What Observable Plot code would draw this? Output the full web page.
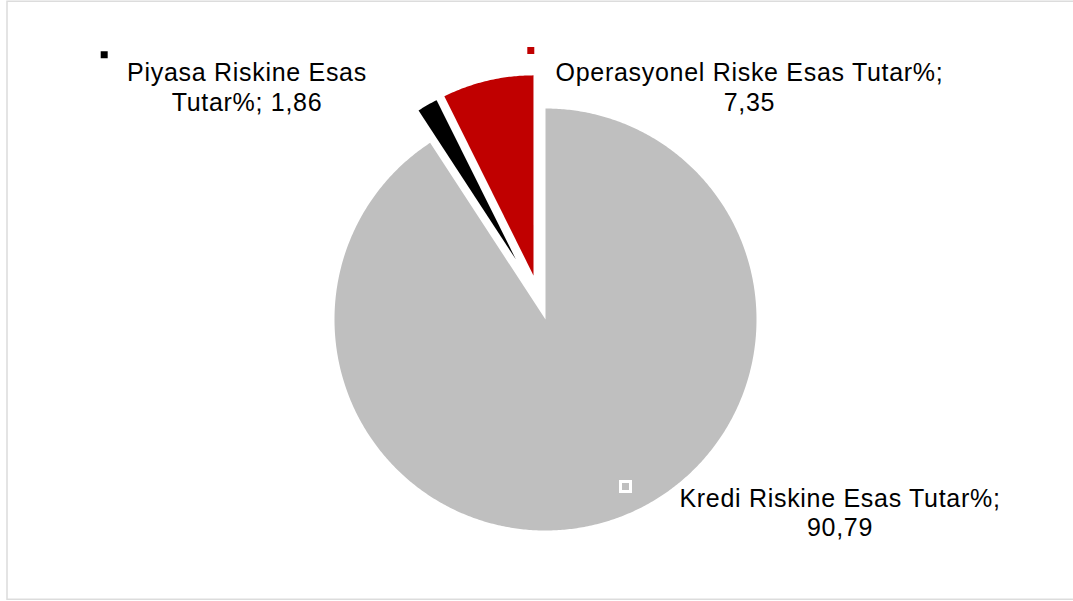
<!DOCTYPE html>
<html>
<head>
<meta charset="utf-8">
<script src="https://cdn.jsdelivr.net/npm/d3@7"></script>
<script src="https://cdn.jsdelivr.net/npm/@observablehq/plot@0.6"></script>
<style>
  html, body { margin: 0; padding: 0; background: #ffffff; }
  #chart svg { display: block; }
</style>
</head>
<body>
<div id="chart"></div>
<script>
// ---- data ----
const categories = ["Kredi Riskine Esas Tutar%", "Piyasa Riskine Esas Tutar%", "Operasyonel Riske Esas Tutar%"];
const values = [90.79, 1.86, 7.35];
const labelLines = [
  ["Kredi Riskine Esas Tutar%;", "90,79"],
  ["Piyasa Riskine Esas", "Tutar%; 1,86"],
  ["Operasyonel Riske Esas Tutar%;", "7,35"]
];
const colors = ["#bfbfbf", "#000000", "#c00000"];

// ---- layout (units of the main pie radius) ----
const radii = [1, 0.844, 0.948];
const explode = [[0, 0], [-0.140, 0.284], [-0.057, 0.209]];
const labelPos = [[1.3957, -0.788], [-1.4147, 1.229], [0.9668, 1.229]];
const keyPos = [[0.3791, -0.7915], [-2.0915, 1.255], [-0.0697, 1.2749]];

// ---- build slices from values ----
const arcs = d3.pie().sort(null).startAngle(0).endAngle(2 * Math.PI)(values);
const pts = [];
arcs.forEach((a, i) => {
  const [ox, oy] = explode[i];
  const r = radii[i];
  pts.push({name: categories[i], x: ox, y: oy});
  const n = Math.max(2, Math.ceil((a.endAngle - a.startAngle) / (Math.PI / 360)));
  for (let k = 0; k <= n; k++) {
    const t = a.startAngle + (a.endAngle - a.startAngle) * k / n;
    pts.push({name: categories[i], x: ox + r * Math.sin(t), y: oy + r * Math.cos(t)});
  }
  pts.push({name: categories[i], x: ox, y: oy});
});

const labels = categories.map((c, i) => ({
  x: labelPos[i][0], y: labelPos[i][1], text: labelLines[i].join("\n")
}));
const keys = categories.map((c, i) => ({x: keyPos[i][0], y: keyPos[i][1], color: colors[i]}));

const chart = Plot.plot({
  width: 1073,
  height: 601,
  margin: 0,
  x: {domain: [-545 / 211, 528 / 211], axis: null},
  y: {domain: [-(601 - 319) / 211, 319 / 211], axis: null},
  color: {type: "identity"},
  style: {background: "#ffffff", fontFamily: "'Liberation Sans', Arial, sans-serif", letterSpacing: "0.7px"},
  marks: [
    Plot.frame({stroke: "#dcdcdc", strokeWidth: 1.5, insetLeft: 6.5, insetTop: 0.75, insetBottom: 2.25, insetRight: -10}),
    ...categories.map((c, i) => Plot.line(pts.filter(d => d.name === c), {
      x: "x", y: "y", fill: colors[i], stroke: "none"
    })),
    Plot.dot(keys, {x: "x", y: "y", symbol: "square", r: 5.64, fill: "color", stroke: "#ffffff", strokeWidth: 3}),
    Plot.text(labels, {
      x: "x", y: "y", text: "text", textAnchor: "middle", lineAnchor: "top",
      lineHeight: 1.18, fontSize: 25, fill: "#000000",
      fontFamily: "'Liberation Sans', Arial, sans-serif"
    })
  ]
});
document.getElementById("chart").appendChild(chart);
</script>
</body>
</html>
